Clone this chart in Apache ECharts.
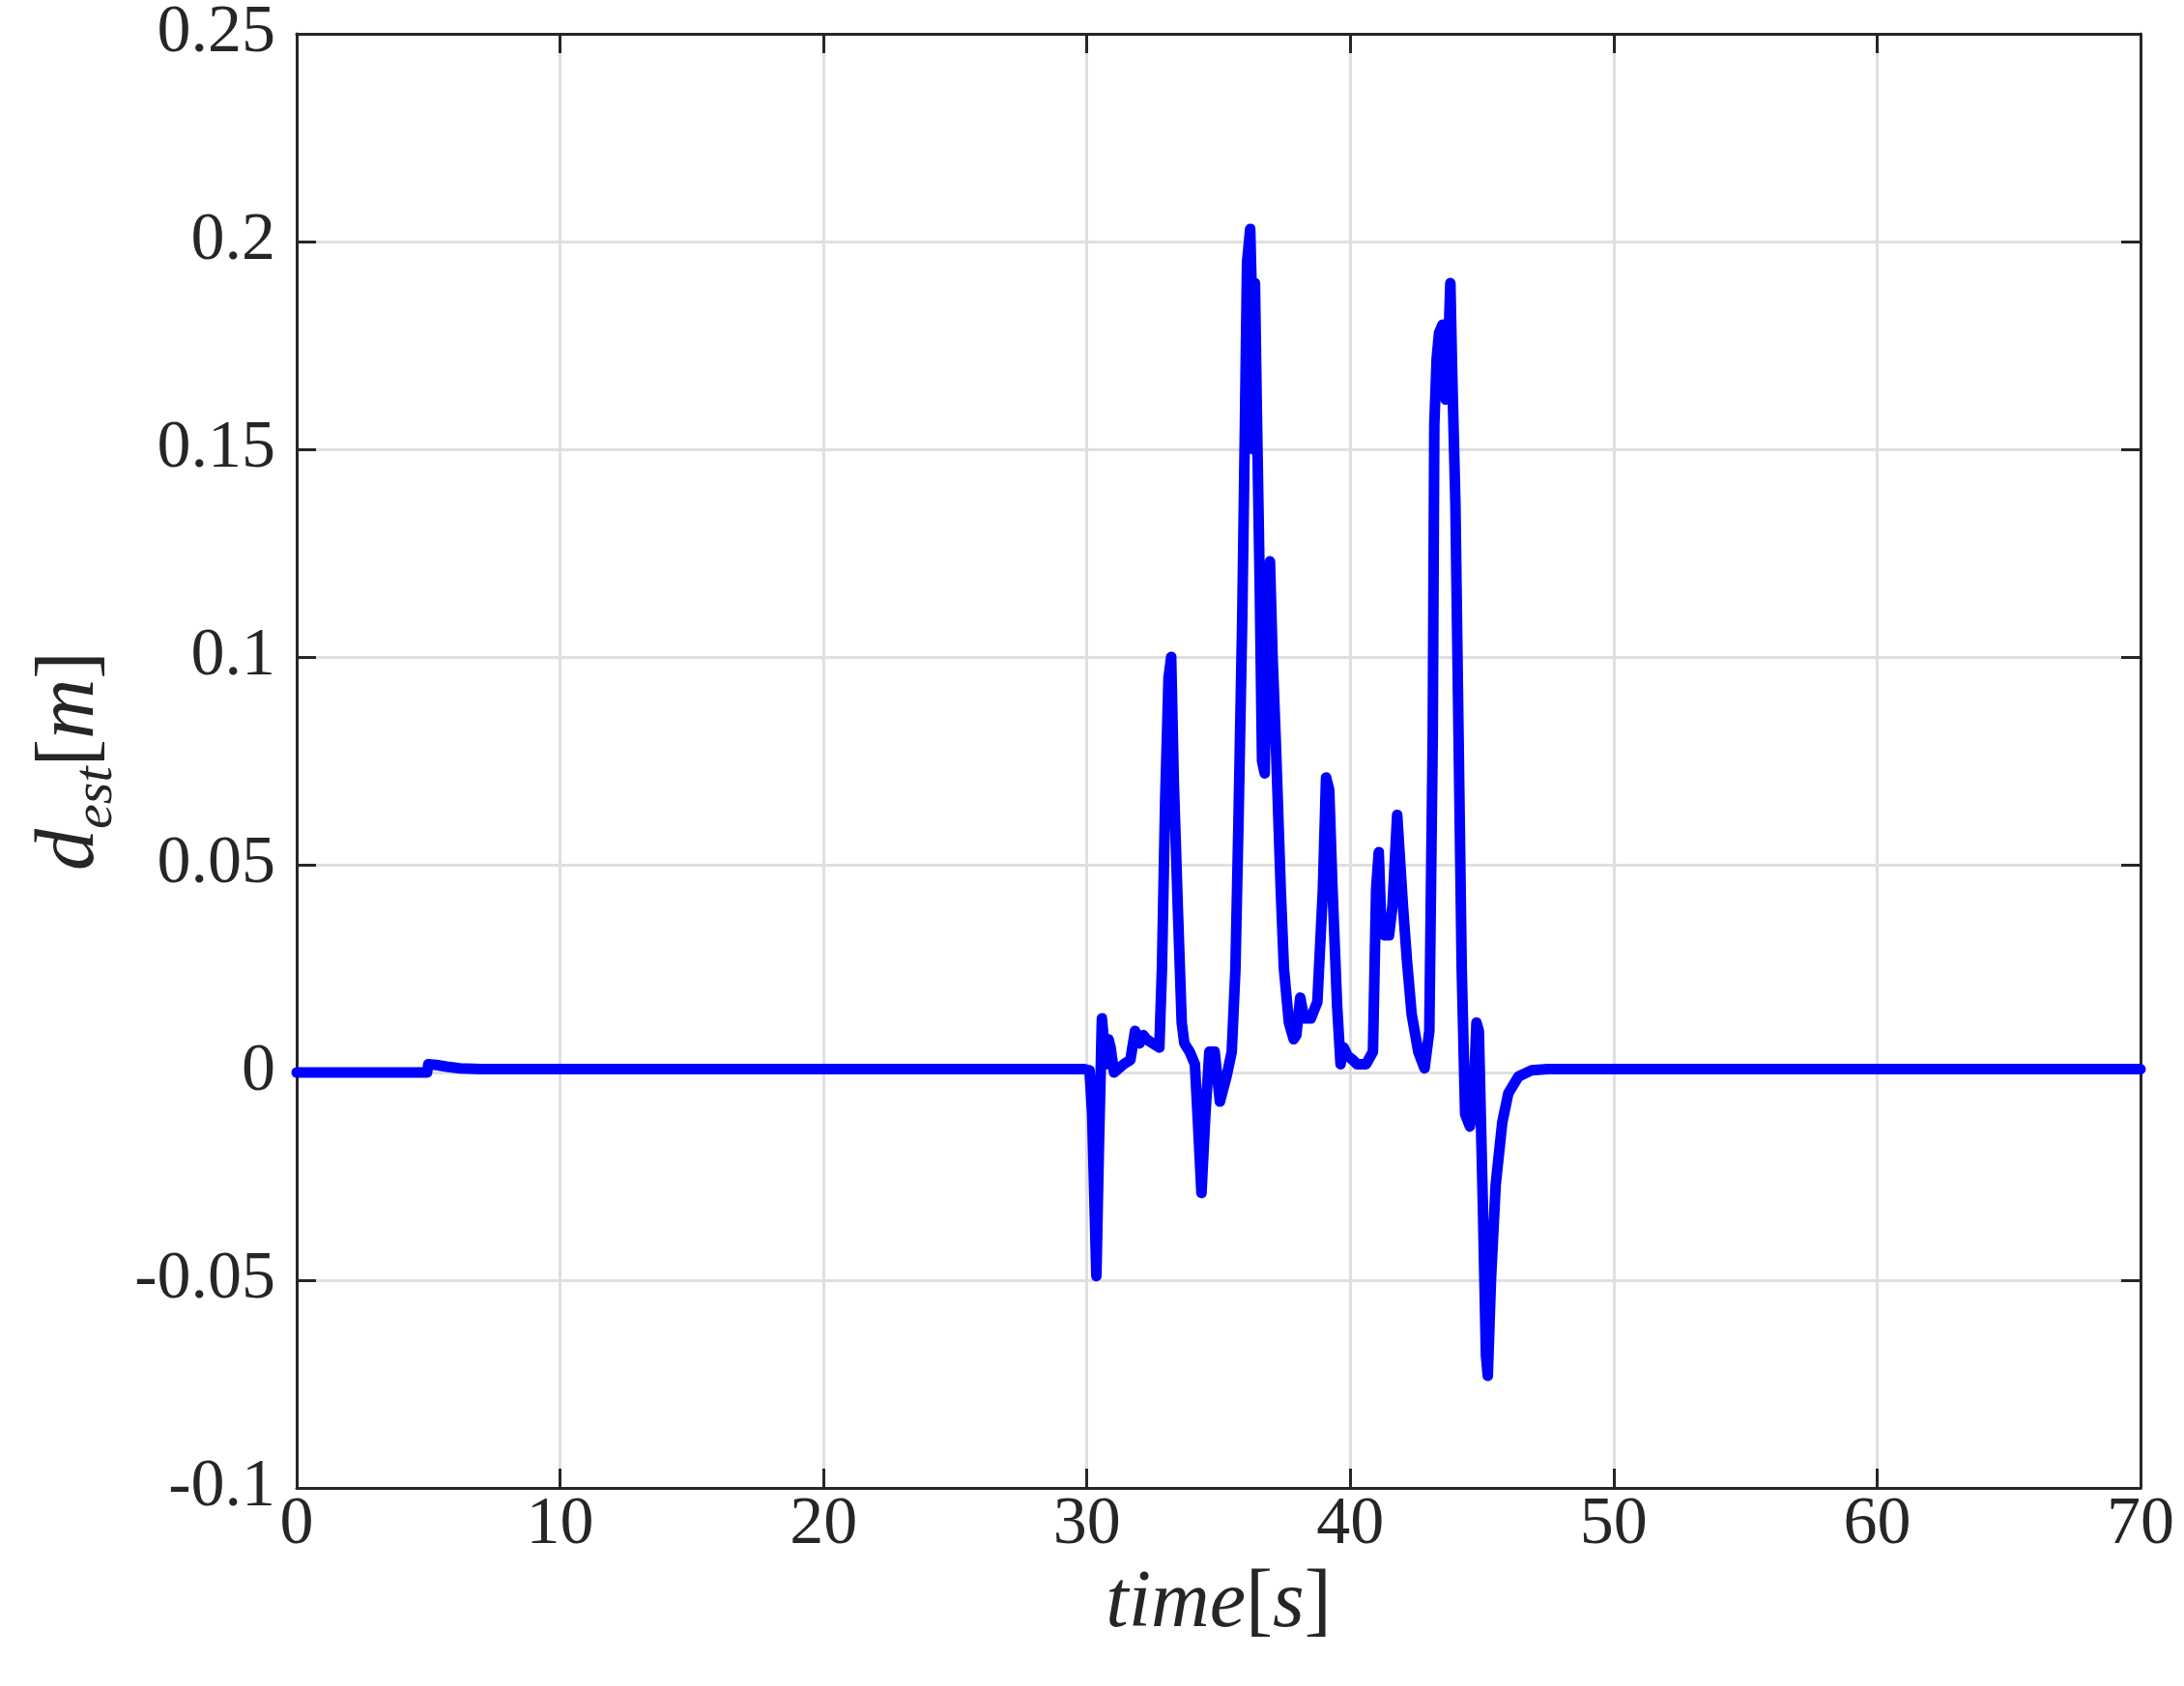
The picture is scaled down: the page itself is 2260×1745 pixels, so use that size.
<!DOCTYPE html>
<html>
<head>
<meta charset="utf-8">
<script src="https://cdn.jsdelivr.net/npm/echarts@6/dist/echarts.min.js"></script>
<style>
    html, body { margin: 0; padding: 0; background: #ffffff; }
    #grafico { width: 2260px; height: 1745px; }
</style>
</head>
<body>
<div id="grafico"></div>
<script>
// estimated distance signal
const tiempo = [
    0, 4.95, 5.0, 5.3, 5.7, 6.2, 7, 29.9, 30.1, 30.2, 30.36, 30.45, 30.57, 30.72, 30.82, 30.9,
    31.03, 31.4, 31.65, 31.83, 32.0, 32.14, 32.26, 32.5, 32.75, 32.85, 32.97, 33.1, 33.2, 33.3,
    33.35, 33.45, 33.6, 33.7, 33.9, 34.1, 34.2, 34.35, 34.5, 34.65, 34.85, 35.05, 35.3, 35.5,
    35.64, 35.76, 35.9, 36.0, 36.08, 36.2, 36.27, 36.32, 36.38, 36.45, 36.56, 36.65, 36.75,
    36.85, 36.95, 37.05, 37.17, 37.36, 37.48, 37.67, 37.85, 37.95, 38.1, 38.25, 38.5, 38.75,
    38.96, 39.08, 39.2, 39.32, 39.5, 39.63, 39.75, 39.9, 40.1, 40.25, 40.6, 40.86, 40.98, 41.08,
    41.18, 41.3, 41.47, 41.6, 41.78, 41.9, 42.0, 42.15, 42.33, 42.58, 42.82, 43.0, 43.13, 43.19,
    43.28, 43.37, 43.5, 43.56, 43.62, 43.72, 43.8, 43.87, 43.99, 44.11, 44.23, 44.36, 44.54,
    44.66, 44.79, 44.88, 45.03, 45.15, 45.22, 45.34, 45.52, 45.77, 46.0, 46.38, 46.87, 47.5, 70
];
const distancia = [
    0, 0, 0.002, 0.0018, 0.0014, 0.001, 0.0008, 0.0008, 0.0005, -0.01, -0.049, -0.02, 0.013, 0.002, 0.008, 0.006,
    0.0, 0.002, 0.003, 0.01, 0.007, 0.009, 0.008, 0.007, 0.006, 0.025, 0.065, 0.095, 0.1, 0.07,
    0.06, 0.04, 0.012, 0.007, 0.005, 0.002, -0.01, -0.029, -0.01, 0.005, 0.005, -0.007, -0.001, 0.005,
    0.025, 0.062, 0.11, 0.156, 0.195, 0.203, 0.185, 0.15, 0.19, 0.16, 0.118, 0.075, 0.072,
    0.11, 0.123, 0.1, 0.08, 0.044, 0.025, 0.012, 0.008, 0.009, 0.018, 0.013, 0.013, 0.017,
    0.044, 0.071, 0.068, 0.045, 0.016, 0.002, 0.006, 0.004, 0.003, 0.002, 0.002, 0.005, 0.044, 0.053,
    0.035, 0.033, 0.033, 0.04, 0.062, 0.05, 0.04, 0.027, 0.014, 0.005, 0.001, 0.01, 0.081, 0.156,
    0.172, 0.178, 0.18, 0.179, 0.162, 0.175, 0.19, 0.168, 0.137, 0.081, 0.025, -0.01, -0.013,
    -0.008, 0.012, 0.01, -0.031, -0.068, -0.073, -0.05, -0.027, -0.012, -0.005, -0.001, 0.0005, 0.0008, 0.0008
];
const ejeX = [0, 70, 10];
const ejeY = [-0.1, 0.25, 0.05];

const fuente = "Liberation Serif";
const colorEje = "#262626";

const puntos = tiempo.map(function(t, i) {
    return [t, distancia[i]];
});

// caja estilo MATLAB: ejes en los cuatro lados con ticks hacia dentro
function ejeBase(extra) {
    return Object.assign({
        type: "value",
        axisLine: {show: true, onZero: false, lineStyle: {color: colorEje, width: 3}},
        axisTick: {show: true, inside: true, length: 20, lineStyle: {color: colorEje, width: 3}},
        splitLine: {show: false},
        axisLabel: {show: false}
    }, extra);
}

const grafico = echarts.init(document.getElementById("grafico"));
grafico.setOption({
    backgroundColor: "#ffffff",
    animation: false,
    grid: {left: 307, right: 45, top: 35, bottom: 205},
    xAxis: [
        ejeBase({
            min: ejeX[0], max: ejeX[1], interval: ejeX[2],
            position: "bottom",
            splitLine: {show: true, lineStyle: {color: "#dfdfdf", width: 3}},
            axisLabel: {show: true, fontFamily: fuente, fontSize: 70, color: colorEje, margin: 4},
            name: "{i|time}{n|[}{i|s}{n|]}",
            nameLocation: "middle",
            nameGap: 78,
            nameTextStyle: {
                rich: {
                    i: {fontFamily: fuente, fontStyle: "italic", fontSize: 84, color: colorEje},
                    n: {fontFamily: fuente, fontSize: 84, color: colorEje}
                }
            }
        }),
        ejeBase({min: ejeX[0], max: ejeX[1], interval: ejeX[2], position: "top"})
    ],
    yAxis: [
        ejeBase({
            min: ejeY[0], max: ejeY[1], interval: ejeY[2],
            position: "left",
            splitLine: {show: true, lineStyle: {color: "#dfdfdf", width: 3}},
            axisLabel: {
                show: true, fontFamily: fuente, fontSize: 70, color: colorEje, margin: 22,
                formatter: function(v) { return String(+v.toFixed(2)); }
            },
            name: "{i|d}{s|est}{n|[}{i|m}{n|]}",
            nameLocation: "middle",
            nameRotate: 90,
            nameGap: 176,
            nameTextStyle: {
                rich: {
                    i: {fontFamily: fuente, fontStyle: "italic", fontSize: 86, lineHeight: 110, color: colorEje},
                    n: {fontFamily: fuente, fontSize: 86, lineHeight: 110, color: colorEje},
                    s: {fontFamily: fuente, fontStyle: "italic", fontSize: 58, lineHeight: 58, verticalAlign: "bottom", color: colorEje}
                }
            }
        }),
        ejeBase({min: ejeY[0], max: ejeY[1], interval: ejeY[2], position: "right"})
    ],
    series: [{
        type: "line",
        data: puntos,
        showSymbol: false,
        lineStyle: {color: "#0000ff", width: 11, cap: "round", join: "round"},
        z: 3
    }]
});
</script>
</body>
</html>
